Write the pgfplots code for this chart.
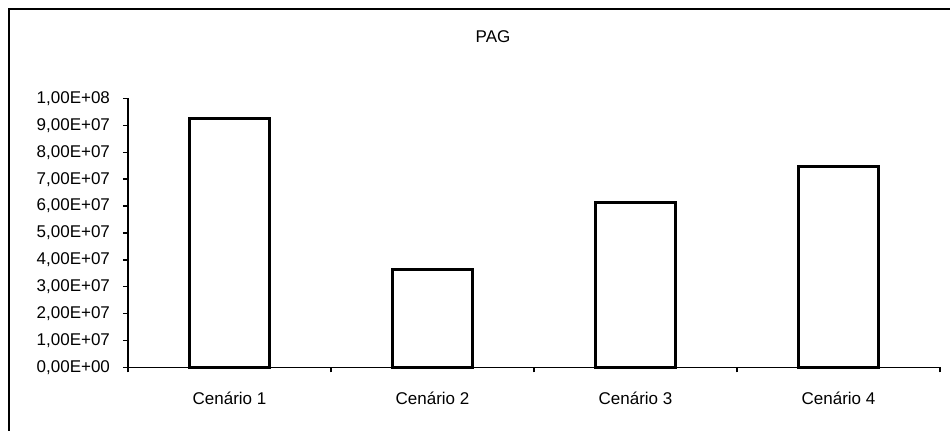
\documentclass[border=0pt]{standalone}
\usepackage{pgfplots}
\pgfplotsset{compat=1.18}
\usepackage{fontspec}
\setmainfont{Liberation Sans}
\begin{document}
\begin{tikzpicture}[x=1pt,y=1pt]
\useasboundingbox (0,0) rectangle (475,-215.5);
\draw[line width=0.8pt] (4.5,-215.5) -- (4.5,-4.5) -- (475,-4.5);
\node[font=\fontsize{8.5}{10}\selectfont] at (246.5,-18.5) {PAG};
\begin{axis}[
  at={(64pt,-183.75pt)}, anchor=south west,
  scale only axis, width=406pt, height=134.5pt,
  xmin=-0.5, xmax=3.5, ymin=0, ymax=1e8,
  axis x line=bottom, axis y line=left,
  axis line style={-, line width=0.7pt},
  tick style={line width=0.7pt, black},
  tick align=outside, major tick length=2.5pt,
  xtick={-0.5,0.5,1.5,2.5,3.5},
  x tick label as interval,
  xticklabels={Cenário 1,Cenário 2,Cenário 3,Cenário 4},
  ytick={0,1e7,2e7,3e7,4e7,5e7,6e7,7e7,8e7,9e7,1e8},
  yticklabels={{0,00E+00},{1,00E+07},{2,00E+07},{3,00E+07},{4,00E+07},{5,00E+07},{6,00E+07},{7,00E+07},{8,00E+07},{9,00E+07},{1,00E+08}},
  scaled y ticks=false,
  ticklabel style={font=\fontsize{8.5}{10}\selectfont},
  xticklabel style={yshift=-6pt},
  yticklabel style={xshift=-3pt},
  ybar, bar width=40pt,
  clip=false,
]
\addplot[draw=black, fill=white, line width=1.5pt] coordinates {(0,9.26e7) (1,3.66e7) (2,6.14e7) (3,7.46e7)};
\end{axis}
\end{tikzpicture}
\end{document}
